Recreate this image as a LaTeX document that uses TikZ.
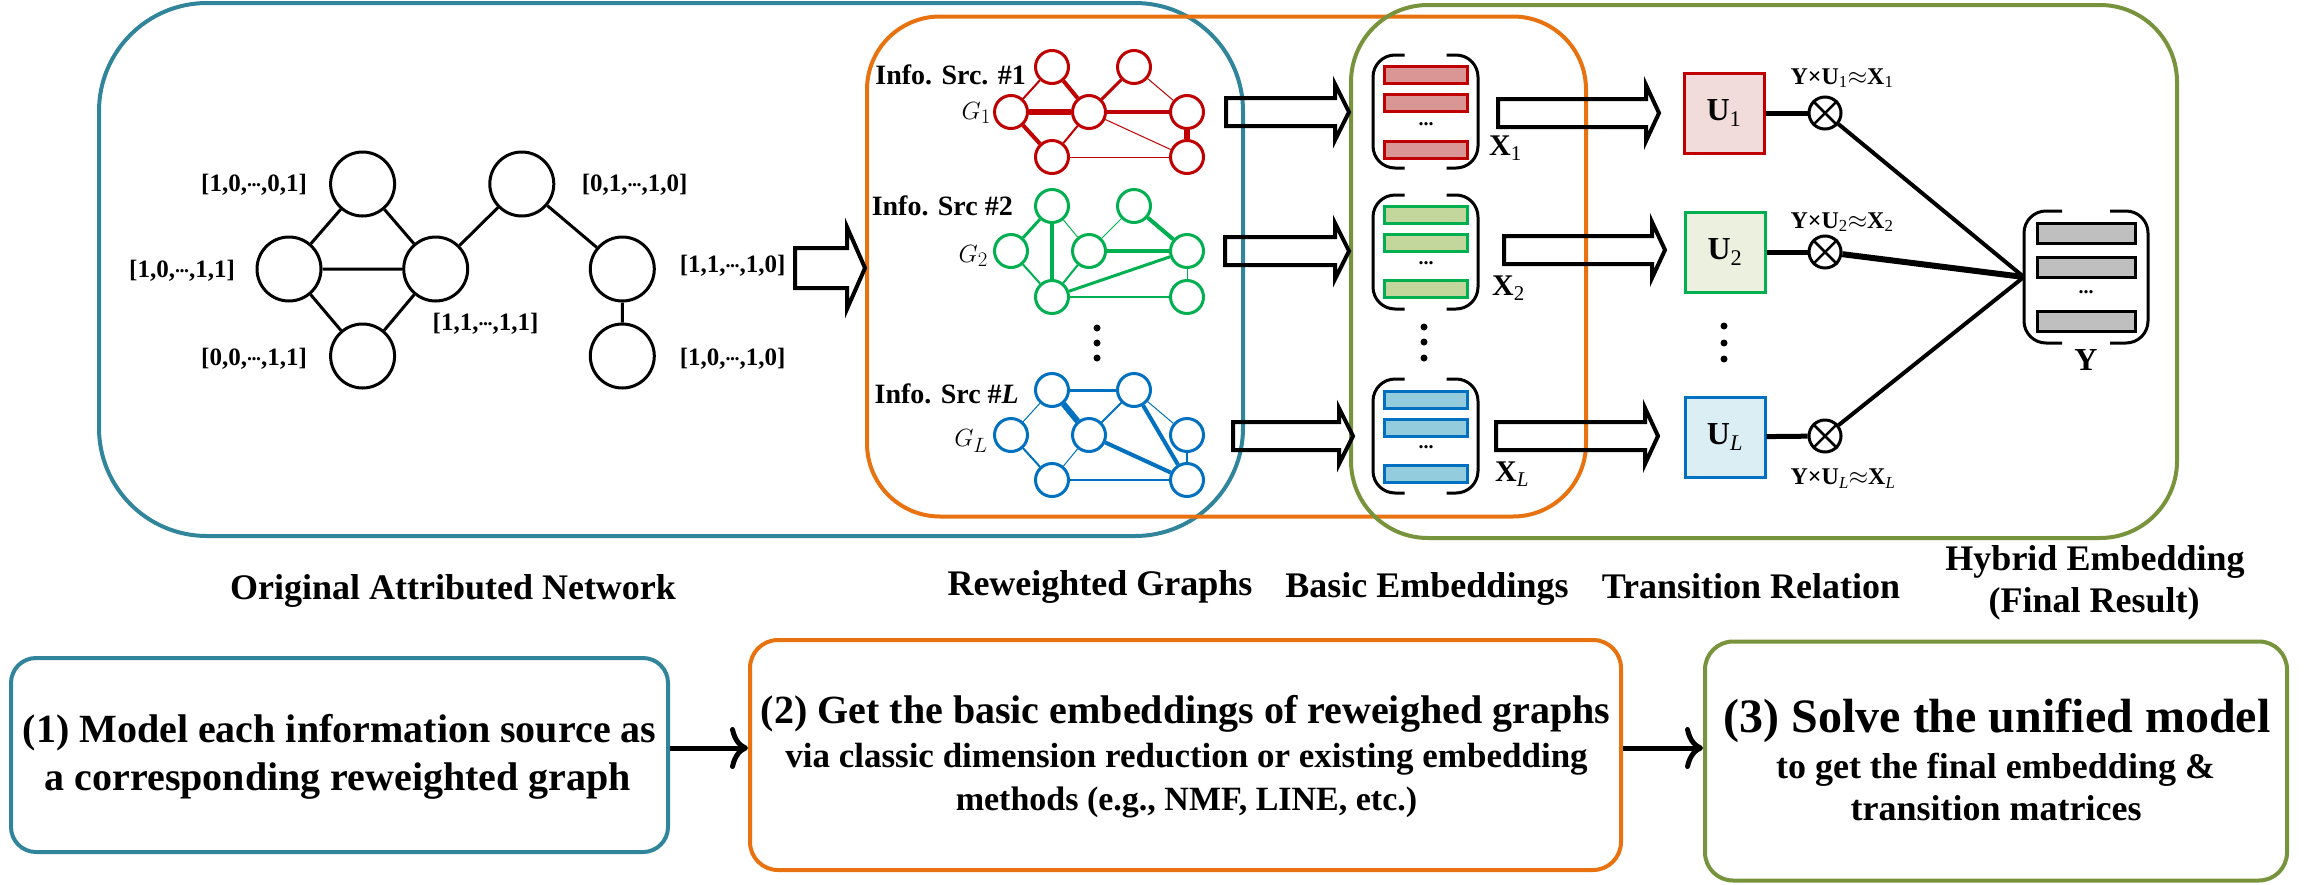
\documentclass[tikz,border=0pt]{standalone}
\usepackage{fontspec}
\setmainfont{Liberation Serif}
\usetikzlibrary{arrows.meta,calc}

\definecolor{cteal}{RGB}{49,133,155}
\definecolor{corange}{RGB}{232,114,16}
\definecolor{cgreenbox}{RGB}{119,147,60}
\definecolor{gred}{RGB}{192,0,0}
\definecolor{ggreen}{RGB}{0,176,80}
\definecolor{gblue}{RGB}{0,112,192}
\definecolor{fred}{RGB}{217,150,148}
\definecolor{fgreen}{RGB}{195,214,155}
\definecolor{fblue}{RGB}{147,205,221}
\definecolor{fgray}{RGB}{191,191,191}
\definecolor{ured}{RGB}{242,220,219}
\definecolor{ugreen}{RGB}{235,241,222}
\definecolor{ublue}{RGB}{219,238,244}

\newcommand\fs[1]{\fontsize{#1}{#1}\selectfont\bfseries}
\newcommand\sub[1]{\textsubscript{\mdseries #1}}
\newcommand\md{\raisebox{0.2em}{\fontsize{20}{20}\selectfont\bfseries .\kern-0.5pt.\kern-0.5pt.}}
% block arrow: x1, x2, y, half body, half head, head length
\newcommand\blockarr[6]{%
  \draw[line width=4, line join=miter] (#1,#3-#4) -- (#2-#6,#3-#4) -- (#2-#6,#3-#5) -- (#2,#3) -- (#2-#6,#3+#5) -- (#2-#6,#3+#4) -- (#1,#3+#4) -- cycle;}
% bracket pair: cx, cy, half width, half height, half gap
\newcommand\brk[5]{%
  \draw[line width=3, rounded corners=22] (#1-#5,#2-#4) -- (#1-#3,#2-#4) -- (#1-#3,#2+#4) -- (#1-#5,#2+#4);
  \draw[line width=3, rounded corners=22] (#1+#5,#2-#4) -- (#1+#3,#2-#4) -- (#1+#3,#2+#4) -- (#1+#5,#2+#4);}

\begin{document}
\begin{tikzpicture}[x=1pt,y=-1pt,
  onode/.style={circle, draw, line width=3, minimum size=64, inner sep=0},
  gnode/.style={circle, line width=3, minimum size=33, inner sep=0, fill=white},
  olab/.style={inner sep=0, font=\fs{25}},
  txt/.style={inner sep=0, font=\fs{36}},
  w1/.style={line width=1},
  w2/.style={line width=2},
  w3/.style={line width=3},
  w4/.style={line width=4},
  w6/.style={line width=6},
  bar/.style={minimum width=83, minimum height=17, inner sep=0, line width=3},
  ybar/.style={minimum width=98, minimum height=20, inner sep=0, line width=3, draw=black, fill=fgray},
  grp/.style={inner sep=0},
  ubox/.style={minimum size=80, inner sep=0, line width=3, font=\fs{32}},
  otimes/.style={circle, draw, line width=3, minimum size=32, inner sep=0},
  bigbox/.style={line width=4, inner sep=0},
  botarrow/.style={line width=5, -{To[length=18pt,width=42pt]}},
  dot/.style={circle, fill, inner sep=0, minimum size=7}
]
\useasboundingbox (0,0) rectangle (2308,884);

% ---- container boxes ----
\node[bigbox, draw=cteal, rounded corners=108, minimum width=1144, minimum height=533] (boxA) at (671,269.5) {};
\node[bigbox, draw=corange, rounded corners=73, minimum width=719, minimum height=500] (boxB) at (1226.5,266.5) {};
\node[bigbox, draw=cgreenbox, rounded corners=77, minimum width=826, minimum height=533] (boxC) at (1764,271.5) {};

% ---- original attributed network ----
\node[onode] (n1) at (362.6,184) {};
\node[onode] (n2) at (521.8,184) {};
\node[onode] (n3) at (289,269) {};
\node[onode] (n4) at (435.7,269) {};
\node[onode] (n5) at (622.3,269) {};
\node[onode] (n6) at (362.6,356) {};
\node[onode] (n7) at (622.3,356) {};
\draw[w3] (n1) -- (n3) (n1) -- (n4) (n3) -- (n4) (n3) -- (n6) (n4) -- (n6)
          (n4) -- (n2) (n2) -- (n5) (n5) -- (n7);
\node[olab] (l1) at (254,185) {[1,0,\md,0,1]};
\node[olab] (l2) at (634.7,185) {[0,1,\md,1,0]};
\node[olab] (l3) at (182,271) {[1,0,\md,1,1]};
\node[olab] (l4) at (732.7,266) {[1,1,\md,1,0]};
\node[olab] (l5) at (485.5,324) {[1,1,\md,1,1]};
\node[olab] (l6) at (254,359) {[0,0,\md,1,1]};
\node[olab] (l7) at (732.7,359) {[1,0,\md,1,0]};

\blockarr{795}{865}{268}{20}{41}{18}

% ---- reweighted graphs ----
\begin{scope}[every node/.append style={draw=gred}, gred]
\node[gnode] (r1) at (1052,67) {};
\node[gnode] (r2) at (1134,67) {};
\node[gnode] (r3) at (1011,112) {};
\node[gnode] (r4) at (1089,112) {};
\node[gnode] (r5) at (1187,112) {};
\node[gnode] (r6) at (1052,157) {};
\node[gnode] (r7) at (1187,157) {};
\draw[w2] (r1) -- (r3);
\draw[w4] (r1) -- (r4);
\draw[w6] (r3) -- (r4);
\draw[w4] (r3) -- (r6);
\draw[w2] (r4) -- (r6);
\draw[w3] (r2) -- (r4);
\draw[w1] (r2) -- (r5);
\draw[w4] (r4) -- (r5);
\draw[w6] (r5) -- (r7);
\draw[w1] (r4) -- (r7);
\draw[w1] (r6) -- (r7);
\end{scope}
\begin{scope}[every node/.append style={draw=ggreen}, ggreen]
\node[gnode] (g1) at (1052,206) {};
\node[gnode] (g2) at (1134,206) {};
\node[gnode] (g3) at (1011,251) {};
\node[gnode] (g4) at (1089,251) {};
\node[gnode] (g5) at (1187,251) {};
\node[gnode] (g6) at (1052,297) {};
\node[gnode] (g7) at (1187,297) {};
\draw[w3] (g1) -- (g3);
\draw[w4] (g1) -- (g6);
\draw[w1] (g1) -- (g4);
\draw[w2] (g3) -- (g6);
\draw[w2] (g4) -- (g6);
\draw[w1] (g2) -- (g4);
\draw[w4] (g2) -- (g5);
\draw[w4] (g4) -- (g5);
\draw[w3] (g5) -- (g6);
\draw[w1] (g5) -- (g7);
\draw[w2] (g6) -- (g7);
\end{scope}
\begin{scope}[every node/.append style={draw=gblue}, gblue]
\node[gnode] (b1) at (1052,390) {};
\node[gnode] (b2) at (1134,390) {};
\node[gnode] (b3) at (1011,435) {};
\node[gnode] (b4) at (1089,435) {};
\node[gnode] (b5) at (1187,435) {};
\node[gnode] (b6) at (1052,480) {};
\node[gnode] (b7) at (1187,480) {};
\draw[w3] (b1) -- (b2);
\draw[w6] (b1) -- (b4);
\draw[w1] (b1) -- (b3);
\draw[w2] (b2) -- (b4);
\draw[w4] (b2) -- (b7);
\draw[w1] (b2) -- (b5);
\draw[w2] (b3) -- (b6);
\draw[w1] (b4) -- (b6);
\draw[w4] (b4) -- (b7);
\draw[w2] (b5) -- (b7);
\draw[w2] (b6) -- (b7);
\end{scope}
\node[inner sep=0, anchor=base east, font=\fs{28}] (i1) at (1026,84) {Info. Src. \#1};
\node[inner sep=0, anchor=base east, font=\fs{28}] (i2) at (1013,215.5) {Info. Src \#2};
\node[inner sep=0, anchor=base east, font=\fs{28}] (i3) at (1019,403) {Info. Src \#\textit{L}};
\node[inner sep=0, anchor=base east, font=\fontsize{28}{28}\selectfont] (gl1) at (991,119) {$G_1$};
\node[inner sep=0, anchor=base east, font=\fontsize{28}{28}\selectfont] (gl2) at (988,262) {$G_2$};
\node[inner sep=0, anchor=base east, font=\fontsize{28}{28}\selectfont] (gl3) at (988,446.5) {$G_L$};
\node[dot] (d1) at (1097,328) {};
\node[dot] (d2) at (1097,343) {};
\node[dot] (d3) at (1097,358) {};

\blockarr{1226}{1349}{112}{14}{28}{14}
\blockarr{1225}{1349}{251}{14}{28}{14}
\blockarr{1233}{1353}{436}{14}{28}{14}

% ---- basic embeddings ----
\node[grp, minimum width=105, minimum height=113] (x1) at (1425.5,111.5) {};
\brk{1425.5}{111.5}{52.5}{56.5}{21}
\node[bar, draw=gred, fill=fred] (x1a) at (1426,75) {};
\node[bar, draw=gred, fill=fred] (x1b) at (1426,103) {};
\node[bar, draw=gred, fill=fred] (x1c) at (1426,150) {};
\node[inner sep=0, font=\fs{20}] (x1e) at (1426,124) {...};
\node[inner sep=0, anchor=base west, font=\fs{30}] (xl1) at (1489,155) {X\sub{1}};

\node[grp, minimum width=105, minimum height=114] (x2) at (1425.5,252) {};
\brk{1425.5}{252}{52.5}{57}{21}
\node[bar, draw=ggreen, fill=fgreen] (x2a) at (1426,214.5) {};
\node[bar, draw=ggreen, fill=fgreen] (x2b) at (1426,243) {};
\node[bar, draw=ggreen, fill=fgreen] (x2c) at (1426,289) {};
\node[inner sep=0, font=\fs{20}] (x2e) at (1426,263) {...};
\node[inner sep=0, anchor=base west, font=\fs{30}] (xl2) at (1492,295) {X\sub{2}};

\node[dot] (e1) at (1424,327) {};
\node[dot] (e2) at (1424,342) {};
\node[dot] (e3) at (1424,358) {};

\node[grp, minimum width=105, minimum height=114] (x3) at (1425.5,436) {};
\brk{1425.5}{436}{52.5}{57}{21}
\node[bar, draw=gblue, fill=fblue] (x3a) at (1426,399.5) {};
\node[bar, draw=gblue, fill=fblue] (x3b) at (1426,427.5) {};
\node[bar, draw=gblue, fill=fblue] (x3c) at (1426,474) {};
\node[inner sep=0, font=\fs{20}] (x3e) at (1426,447) {...};
\node[inner sep=0, anchor=base west, font=\fs{30}] (xl3) at (1495,481) {X\sub{\textit{L}}};

\blockarr{1498}{1659}{113}{14}{28}{13}
\blockarr{1504}{1665}{250}{14}{28}{13}
\blockarr{1496}{1658}{436}{14}{28}{13}

% ---- transition relation ----
\node[ubox, draw=gred, fill=ured] (u1) at (1724,113) {U\sub{1}};
\node[ubox, draw=ggreen, fill=ugreen] (u2) at (1725,252) {U\sub{2}};
\node[ubox, draw=gblue, fill=ublue] (u3) at (1725,437) {U\sub{\textit{L}}};
\node[dot] (f1) at (1724,326) {};
\node[dot] (f2) at (1724,343) {};
\node[dot] (f3) at (1724,359) {};

\node[otimes] (o1) at (1825,113) {};
\node[otimes] (o2) at (1825,252) {};
\node[otimes] (o3) at (1825,436) {};
\foreach \o in {o1,o2,o3}{
  \draw[line width=2.5] (\o.45) -- (\o.225) (\o.135) -- (\o.315);
}
\draw[line width=5] (u1) -- (o1);
\draw[line width=5] (u2) -- (o2);
\draw[line width=5] (u3) -- (o3);
\node[inner sep=0, anchor=base, font=\fs{24}] (eq1) at (1842,84) {Y×U\sub{1}$\approx$X\sub{1}};
\node[inner sep=0, anchor=base, font=\fs{24}] (eq2) at (1842,228) {Y×U\sub{2}$\approx$X\sub{2}};
\node[inner sep=0, anchor=base, font=\fs{24}] (eq3) at (1843,484.5) {Y×U\sub{\textit{L}}$\approx$X\sub{\textit{L}}};

% ---- hybrid embedding ----
\node[grp, minimum width=124, minimum height=132] (Y) at (2086,277) {};
\brk{2086}{277}{62}{66}{24}
\node[ybar] (ya) at (2086.5,233.5) {};
\node[ybar] (yb) at (2086.5,267) {};
\node[ybar] (yc) at (2086.5,321) {};
\node[inner sep=0, font=\fs{20}] (ye) at (2086,292) {...};
\node[inner sep=0, anchor=base, font=\fs{32}] (yl) at (2086,370) {Y};
\draw[line width=4] (o1) -- (Y.west);
\draw[line width=6] (o2) -- (Y.west);
\draw[line width=4] (o3) -- (Y.west);

% ---- stage captions ----
\node[txt, anchor=base] (c1) at (453,599) {Original Attributed Network};
\node[txt, anchor=base] (c2) at (1100,595) {Reweighted Graphs};
\node[txt, anchor=base] (c3) at (1427,597) {Basic Embeddings};
\node[txt, anchor=base] (c4) at (1751,598) {Transition Relation};
\node[txt, anchor=base] (c5) at (2095,570) {Hybrid Embedding};
\node[txt, anchor=base] (c6) at (2094,612) {(Final Result)};

% ---- bottom steps ----
\node[bigbox, draw=cteal, rounded corners=25, minimum width=657, minimum height=194] (s1) at (339.5,755) {};
\node[bigbox, draw=corange, rounded corners=28, minimum width=871, minimum height=230] (s2) at (1185.5,755) {};
\node[bigbox, draw=cgreenbox, rounded corners=28, minimum width=582, minimum height=239] (s3) at (1996,761) {};

\node[inner sep=0, anchor=base, font=\fs{40}] (t11) at (339.5,742) {(1) Model each information source as};
\node[inner sep=0, anchor=base, font=\fs{40}] (t12) at (338,790) {a corresponding reweighted graph};
\node[inner sep=0, anchor=base, font=\fs{40}] (t21) at (1185.5,723) {(2) Get the basic embeddings of reweighed graphs};
\node[inner sep=0, anchor=base, font=\fs{35}] (t22) at (1186.5,767) {via classic dimension reduction or existing embedding};
\node[inner sep=0, anchor=base, font=\fs{34}] (t23) at (1186.5,810) {methods (e.g., NMF, LINE, etc.)};
\node[inner sep=0, anchor=base, font=\fs{48}] (t31) at (1997,732) {(3) Solve the unified model};
\node[inner sep=0, anchor=base, font=\fs{36}] (t32) at (1995.5,778) {to get the final embedding \&};
\node[inner sep=0, anchor=base, font=\fs{36}] (t33) at (1996,820) {transition matrices};

\draw[botarrow] ([yshift=7pt]s1.east) -- ([yshift=7pt]s1.east -| s2.west);
\draw[botarrow] ([yshift=7pt]s2.east) -- ([yshift=7pt]s2.east -| s3.west);
\end{tikzpicture}
\end{document}
